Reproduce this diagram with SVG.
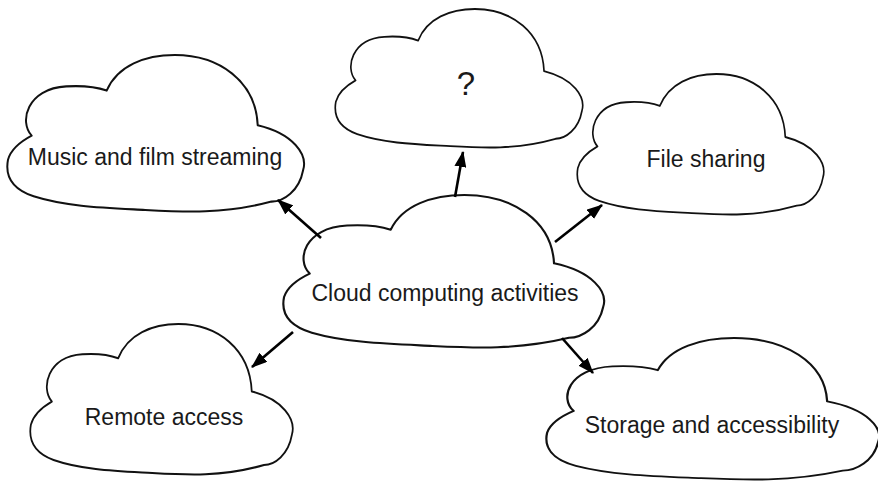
<svg xmlns="http://www.w3.org/2000/svg" width="878" height="482" viewBox="0 0 878 482">
<style>
.cloud{fill:#fff;stroke:#111;stroke-width:2;stroke-linejoin:round}
.lbl{font-family:"Liberation Sans",Arial,sans-serif;font-size:23px;fill:#1a1a1a;text-anchor:middle}
.conn{stroke:#000;stroke-width:2.6;fill:none}
</style>
<defs>
<path id="cl" d="M25,77 C12,64 20,32 60,30 C78,29 92,31 101,34 C112,10 140,0 170,0 C215,0 252,25 254,67 C290,75 305,95 300,110 C296,130 280,140 268,140 C220,152 180,150 140,148 C100,146 60,145 27,135 C5,128 -2,115 1,100 C4,90 15,82 25,77 Z"/>
<marker id="ah" markerUnits="userSpaceOnUse" markerWidth="16" markerHeight="12" refX="15" refY="6" orient="auto">
<path d="M0,0 L16,6 L0,12 Z" fill="#000"/>
</marker>
</defs>
<rect width="878" height="482" fill="#fff"/>
<g id="music">
<use href="#cl" class="cloud" transform="translate(7,55) scale(0.987,1.047)"/>
<text class="lbl" x="155" y="165">Music and film streaming</text>
</g>
<g id="question">
<use href="#cl" class="cloud" transform="translate(335,9) scale(0.823,0.927)"/>
<text class="lbl" x="466" y="95" style="font-size:33px">?</text>
</g>
<g id="file">
<use href="#cl" class="cloud" transform="translate(577,74) scale(0.82,0.94)"/>
<text class="lbl" x="706" y="167">File sharing</text>
</g>
<g id="central">
<use href="#cl" class="cloud" transform="translate(283,195) scale(1.067,1.02)"/>
<text class="lbl" x="445" y="301">Cloud computing activities</text>
</g>
<g id="remote">
<use href="#cl" class="cloud" transform="translate(30,324) scale(0.873,1.007)"/>
<text class="lbl" x="164" y="425">Remote access</text>
</g>
<g id="storage">
<use href="#cl" class="cloud" transform="translate(546,338) scale(1.107,0.947)"/>
<text class="lbl" x="712" y="433">Storage and accessibility</text>
</g>
<g id="connectors">
<line class="conn" x1="321" y1="238" x2="278" y2="200" marker-end="url(#ah)"/>
<line class="conn" x1="455" y1="197" x2="463" y2="152" marker-end="url(#ah)"/>
<line class="conn" x1="555" y1="242" x2="602" y2="205" marker-end="url(#ah)"/>
<line class="conn" x1="293" y1="332" x2="252" y2="367" marker-end="url(#ah)"/>
<line class="conn" x1="562" y1="338" x2="593" y2="373" marker-end="url(#ah)"/>
</g>
</svg>
